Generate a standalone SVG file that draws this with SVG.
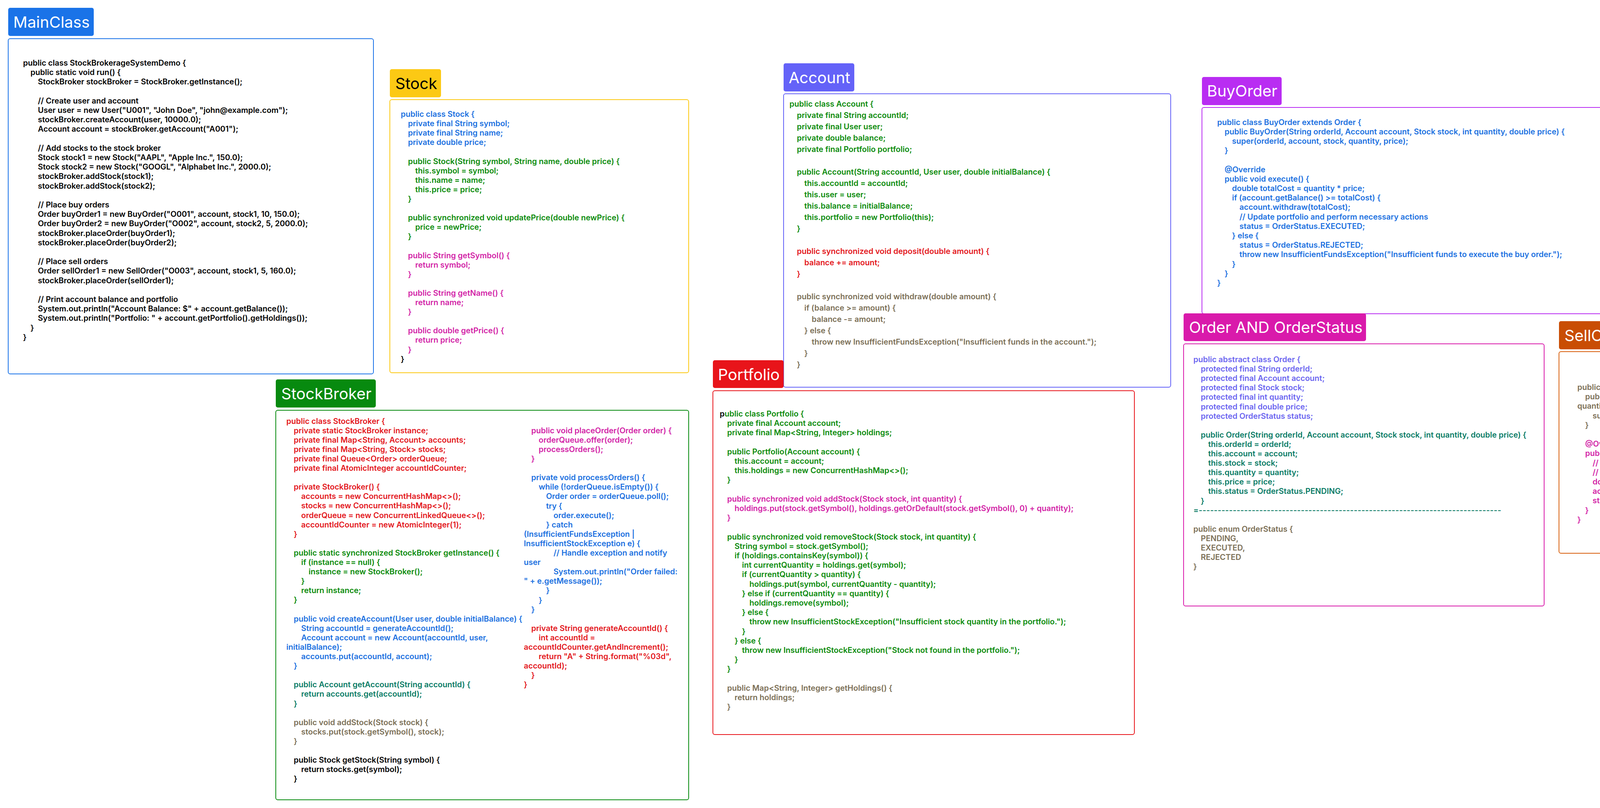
<svg xmlns="http://www.w3.org/2000/svg" width="4843" height="2068" viewBox="0 0 4843 2068">
<style>
text{font-family:Inter,"Noto Sans","Liberation Sans",sans-serif;}
.code{font-size:20px;font-weight:600;}
.lbl{font-size:40px;font-weight:400;fill:#fff;}
.box{fill:#fff;stroke-width:2;}
.b{fill:#1a6fe0}.g{fill:#0a8a0a}.m{fill:#d21fa6}.r{fill:#e3161b}.t{fill:#077a64}.n{fill:#7a6e55}.k{fill:#000}.p{fill:#6a64f0}
</style>
<rect width="4843" height="2068" fill="#fff"/>
<g id="connectors"/>

<g id="MainClass">
<rect x="21" y="20" width="219" height="72" rx="5" fill="#1a73e8"/>
<text class="lbl" x="34" y="71">MainClass</text>
<rect class="box" x="21" y="99" width="935" height="858" rx="5" stroke="#1a73e8"/>
<text class="code k">
<tspan x="59" y="168">public class StockBrokerageSystemDemo {</tspan>
<tspan x="78" dy="24.2">public static void run() {</tspan>
<tspan x="97" dy="24.2">StockBroker stockBroker = StockBroker.getInstance();</tspan>
<tspan x="97" dy="48.4">// Create user and account</tspan>
<tspan x="97" dy="24.2">User user = new User("U001", "John Doe", "john@example.com");</tspan>
<tspan x="97" dy="24.2">stockBroker.createAccount(user, 10000.0);</tspan>
<tspan x="97" dy="24.2">Account account = stockBroker.getAccount("A001");</tspan>
<tspan x="97" dy="48.4">// Add stocks to the stock broker</tspan>
<tspan x="97" dy="24.2">Stock stock1 = new Stock("AAPL", "Apple Inc.", 150.0);</tspan>
<tspan x="97" dy="24.2">Stock stock2 = new Stock("GOOGL", "Alphabet Inc.", 2000.0);</tspan>
<tspan x="97" dy="24.2">stockBroker.addStock(stock1);</tspan>
<tspan x="97" dy="24.2">stockBroker.addStock(stock2);</tspan>
<tspan x="97" dy="48.4">// Place buy orders</tspan>
<tspan x="97" dy="24.2">Order buyOrder1 = new BuyOrder("O001", account, stock1, 10, 150.0);</tspan>
<tspan x="97" dy="24.2">Order buyOrder2 = new BuyOrder("O002", account, stock2, 5, 2000.0);</tspan>
<tspan x="97" dy="24.2">stockBroker.placeOrder(buyOrder1);</tspan>
<tspan x="97" dy="24.2">stockBroker.placeOrder(buyOrder2);</tspan>
<tspan x="97" dy="48.4">// Place sell orders</tspan>
<tspan x="97" dy="24.2">Order sellOrder1 = new SellOrder("O003", account, stock1, 5, 160.0);</tspan>
<tspan x="97" dy="24.2">stockBroker.placeOrder(sellOrder1);</tspan>
<tspan x="97" dy="48.4">// Print account balance and portfolio</tspan>
<tspan x="97" dy="24.2">System.out.println("Account Balance: $" + account.getBalance());</tspan>
<tspan x="97" dy="24.2">System.out.println("Portfolio: " + account.getPortfolio().getHoldings());</tspan>
<tspan x="78" dy="24.2">}</tspan>
<tspan x="59" dy="24.2">}</tspan>
</text>
</g>

<g id="Stock">
<rect x="998" y="177" width="131" height="72" rx="5" fill="#fcc914"/>
<text class="lbl" x="1012" y="228" style="fill:#000">Stock</text>
<rect class="box" x="998" y="255" width="765" height="699" rx="5" stroke="#fcc914"/>
<text class="code">
<tspan class="b" x="1026" y="299">public class Stock {</tspan>
<tspan class="b" x="1044.5" dy="24.1">private final String symbol;</tspan>
<tspan class="b" x="1044.5" dy="24.1">private final String name;</tspan>
<tspan class="b" x="1044.5" dy="24.1">private double price;</tspan>
<tspan class="g" x="1044.5" dy="48.2">public Stock(String symbol, String name, double price) {</tspan>
<tspan class="g" x="1063" dy="24.1">this.symbol = symbol;</tspan>
<tspan class="g" x="1063" dy="24.1">this.name = name;</tspan>
<tspan class="g" x="1063" dy="24.1">this.price = price;</tspan>
<tspan class="g" x="1044.5" dy="24.1">}</tspan>
<tspan class="g" x="1044.5" dy="48.2">public synchronized void updatePrice(double newPrice) {</tspan>
<tspan class="g" x="1063" dy="24.1">price = newPrice;</tspan>
<tspan class="g" x="1044.5" dy="24.1">}</tspan>
<tspan class="m" x="1044.5" dy="48.2">public String getSymbol() {</tspan>
<tspan class="m" x="1063" dy="24.1">return symbol;</tspan>
<tspan class="m" x="1044.5" dy="24.1">}</tspan>
<tspan class="m" x="1044.5" dy="48.2">public String getName() {</tspan>
<tspan class="m" x="1063" dy="24.1">return name;</tspan>
<tspan class="m" x="1044.5" dy="24.1">}</tspan>
<tspan class="m" x="1044.5" dy="48.2">public double getPrice() {</tspan>
<tspan class="m" x="1063" dy="24.1">return price;</tspan>
<tspan class="m" x="1044.5" dy="24.1">}</tspan>
<tspan class="k" x="1026" dy="24.1">}</tspan>
</text>
</g>

<g id="StockBroker">
<rect x="706" y="971" width="256" height="72" rx="5" fill="#078a0f"/>
<text class="lbl" x="720" y="1022">StockBroker</text>
<rect class="box" x="706" y="1050" width="1057" height="997" rx="5" stroke="#078a0f"/>
<text class="code">
<tspan class="r" x="733" y="1084.5">public class StockBroker {</tspan>
<tspan class="r" x="752" dy="24.1">private static StockBroker instance;</tspan>
<tspan class="r" x="752" dy="24.1">private final Map&lt;String, Account&gt; accounts;</tspan>
<tspan class="r" x="752" dy="24.1">private final Map&lt;String, Stock&gt; stocks;</tspan>
<tspan class="r" x="752" dy="24.1">private final Queue&lt;Order&gt; orderQueue;</tspan>
<tspan class="r" x="752" dy="24.1">private final AtomicInteger accountIdCounter;</tspan>
<tspan class="r" x="752" dy="48.2">private StockBroker() {</tspan>
<tspan class="r" x="771" dy="24.1">accounts = new ConcurrentHashMap&lt;&gt;();</tspan>
<tspan class="r" x="771" dy="24.1">stocks = new ConcurrentHashMap&lt;&gt;();</tspan>
<tspan class="r" x="771" dy="24.1">orderQueue = new ConcurrentLinkedQueue&lt;&gt;();</tspan>
<tspan class="r" x="771" dy="24.1">accountIdCounter = new AtomicInteger(1);</tspan>
<tspan class="r" x="752" dy="24.1">}</tspan>
<tspan class="g" x="752" dy="48.2">public static synchronized StockBroker getInstance() {</tspan>
<tspan class="g" x="771" dy="24.1">if (instance == null) {</tspan>
<tspan class="g" x="790" dy="24.1">instance = new StockBroker();</tspan>
<tspan class="g" x="771" dy="24.1">}</tspan>
<tspan class="g" x="771" dy="24.1">return instance;</tspan>
<tspan class="g" x="752" dy="24.1">}</tspan>
<tspan class="b" x="752" dy="48.2">public void createAccount(User user, double initialBalance) {</tspan>
<tspan class="b" x="771" dy="24.1">String accountId = generateAccountId();</tspan>
<tspan class="b" x="771" dy="24.1">Account account = new Account(accountId, user,</tspan>
<tspan class="b" x="733" dy="24.1">initialBalance);</tspan>
<tspan class="b" x="771" dy="24.1">accounts.put(accountId, account);</tspan>
<tspan class="b" x="752" dy="24.1">}</tspan>
<tspan class="t" x="752" dy="48.2">public Account getAccount(String accountId) {</tspan>
<tspan class="t" x="771" dy="24.1">return accounts.get(accountId);</tspan>
<tspan class="t" x="752" dy="24.1">}</tspan>
<tspan class="n" x="752" dy="48.2">public void addStock(Stock stock) {</tspan>
<tspan class="n" x="771" dy="24.1">stocks.put(stock.getSymbol(), stock);</tspan>
<tspan class="n" x="752" dy="24.1">}</tspan>
<tspan class="k" x="752" dy="48.2">public Stock getStock(String symbol) {</tspan>
<tspan class="k" x="771" dy="24.1">return stocks.get(symbol);</tspan>
<tspan class="k" x="752" dy="24.1">}</tspan>
</text>
<text class="code">
<tspan class="m" x="1360" y="1108.7">public void placeOrder(Order order) {</tspan>
<tspan class="m" x="1379" dy="24.1">orderQueue.offer(order);</tspan>
<tspan class="m" x="1379" dy="24.1">processOrders();</tspan>
<tspan class="m" x="1360" dy="24.1">}</tspan>
<tspan class="b" x="1360" dy="48.2">private void processOrders() {</tspan>
<tspan class="b" x="1379" dy="24.1">while (!orderQueue.isEmpty()) {</tspan>
<tspan class="b" x="1398" dy="24.1">Order order = orderQueue.poll();</tspan>
<tspan class="b" x="1398" dy="24.1">try {</tspan>
<tspan class="b" x="1417" dy="24.1">order.execute();</tspan>
<tspan class="b" x="1398" dy="24.1">} catch</tspan>
<tspan class="b" x="1341" dy="24.1">(InsufficientFundsException |</tspan>
<tspan class="b" x="1341" dy="24.1">InsufficientStockException e) {</tspan>
<tspan class="b" x="1417" dy="24.1">// Handle exception and notify</tspan>
<tspan class="b" x="1341" dy="24.1">user</tspan>
<tspan class="b" x="1417" dy="24.1">System.out.println("Order failed:</tspan>
<tspan class="b" x="1341" dy="24.1">" + e.getMessage());</tspan>
<tspan class="b" x="1398" dy="24.1">}</tspan>
<tspan class="b" x="1379" dy="24.1">}</tspan>
<tspan class="b" x="1360" dy="24.1">}</tspan>
<tspan class="r" x="1360" dy="48.2">private String generateAccountId() {</tspan>
<tspan class="r" x="1379" dy="24.1">int accountId =</tspan>
<tspan class="r" x="1341" dy="24.1">accountIdCounter.getAndIncrement();</tspan>
<tspan class="r" x="1379" dy="24.1">return "A" + String.format("%03d",</tspan>
<tspan class="r" x="1341" dy="24.1">accountId);</tspan>
<tspan class="r" x="1360" dy="24.1">}</tspan>
<tspan class="r" x="1341" dy="24.1">}</tspan>
</text>
</g>

<g id="Account">
<rect x="2006" y="162" width="181" height="72" rx="5" fill="#6462f8"/>
<text class="lbl" x="2019" y="213">Account</text>
<rect class="box" x="2006" y="240" width="991" height="751" rx="5" stroke="#6462f8"/>
<text class="code">
<tspan class="g" x="2021" y="272.5">public class Account {</tspan>
<tspan class="g" x="2040" dy="29">private final String accountId;</tspan>
<tspan class="g" x="2040" dy="29">private final User user;</tspan>
<tspan class="g" x="2040" dy="29">private double balance;</tspan>
<tspan class="g" x="2040" dy="29">private final Portfolio portfolio;</tspan>
<tspan class="g" x="2040" dy="58">public Account(String accountId, User user, double initialBalance) {</tspan>
<tspan class="g" x="2059" dy="29">this.accountId = accountId;</tspan>
<tspan class="g" x="2059" dy="29">this.user = user;</tspan>
<tspan class="g" x="2059" dy="29">this.balance = initialBalance;</tspan>
<tspan class="g" x="2059" dy="29">this.portfolio = new Portfolio(this);</tspan>
<tspan class="g" x="2040" dy="29">}</tspan>
<tspan class="r" x="2040" dy="58">public synchronized void deposit(double amount) {</tspan>
<tspan class="r" x="2059" dy="29">balance += amount;</tspan>
<tspan class="r" x="2040" dy="29">}</tspan>
<tspan class="n" x="2040" dy="58">public synchronized void withdraw(double amount) {</tspan>
<tspan class="n" x="2059" dy="29">if (balance &gt;= amount) {</tspan>
<tspan class="n" x="2078" dy="29">balance -= amount;</tspan>
<tspan class="n" x="2059" dy="29">} else {</tspan>
<tspan class="n" x="2078" dy="29">throw new InsufficientFundsException("Insufficient funds in the account.");</tspan>
<tspan class="n" x="2059" dy="29">}</tspan>
<tspan class="n" x="2040" dy="29">}</tspan>
</text>
</g>

<g id="Portfolio">
<rect x="1825" y="922" width="181" height="71" rx="5" fill="#e8141a"/>
<text class="lbl" x="1838" y="972.5">Portfolio</text>
<rect class="box" x="1825" y="1000" width="1079" height="880" rx="5" stroke="#e8141a"/>
<text class="code">
<tspan class="k" x="1842.5" y="1066">p</tspan><tspan class="g">ublic class Portfolio {</tspan>
<tspan class="g" x="1861.5" dy="24.2">private final Account account;</tspan>
<tspan class="g" x="1861.5" dy="24.2">private final Map&lt;String, Integer&gt; holdings;</tspan>
<tspan class="g" x="1861.5" dy="48.4">public Portfolio(Account account) {</tspan>
<tspan class="g" x="1880.5" dy="24.2">this.account = account;</tspan>
<tspan class="g" x="1880.5" dy="24.2">this.holdings = new ConcurrentHashMap&lt;&gt;();</tspan>
<tspan class="g" x="1861.5" dy="24.2">}</tspan>
<tspan class="m" x="1861.5" dy="48.4">public synchronized void addStock(Stock stock, int quantity) {</tspan>
<tspan class="m" x="1880.5" dy="24.2">holdings.put(stock.getSymbol(), holdings.getOrDefault(stock.getSymbol(), 0) + quantity);</tspan>
<tspan class="m" x="1861.5" dy="24.2">}</tspan>
<tspan class="g" x="1861.5" dy="48.4">public synchronized void removeStock(Stock stock, int quantity) {</tspan>
<tspan class="g" x="1880.5" dy="24.2">String symbol = stock.getSymbol();</tspan>
<tspan class="g" x="1880.5" dy="24.2">if (holdings.containsKey(symbol)) {</tspan>
<tspan class="g" x="1899.5" dy="24.2">int currentQuantity = holdings.get(symbol);</tspan>
<tspan class="g" x="1899.5" dy="24.2">if (currentQuantity &gt; quantity) {</tspan>
<tspan class="g" x="1918.5" dy="24.2">holdings.put(symbol, currentQuantity - quantity);</tspan>
<tspan class="g" x="1899.5" dy="24.2">} else if (currentQuantity == quantity) {</tspan>
<tspan class="g" x="1918.5" dy="24.2">holdings.remove(symbol);</tspan>
<tspan class="g" x="1899.5" dy="24.2">} else {</tspan>
<tspan class="g" x="1918.5" dy="24.2">throw new InsufficientStockException("Insufficient stock quantity in the portfolio.");</tspan>
<tspan class="g" x="1899.5" dy="24.2">}</tspan>
<tspan class="g" x="1880.5" dy="24.2">} else {</tspan>
<tspan class="g" x="1899.5" dy="24.2">throw new InsufficientStockException("Stock not found in the portfolio.");</tspan>
<tspan class="g" x="1880.5" dy="24.2">}</tspan>
<tspan class="g" x="1861.5" dy="24.2">}</tspan>
<tspan class="n" x="1861.5" dy="48.4">public Map&lt;String, Integer&gt; getHoldings() {</tspan>
<tspan class="n" x="1880.5" dy="24.2">return holdings;</tspan>
<tspan class="n" x="1861.5" dy="24.2">}</tspan>
</text>
</g>

<g id="BuyOrder">
<rect x="3077" y="197" width="204" height="72" rx="5" fill="#b92df2"/>
<text class="lbl" x="3090" y="247">BuyOrder</text>
<rect class="box" x="3077" y="275" width="1052" height="528" rx="5" stroke="#b92df2"/>
<text class="code b">
<tspan x="3116" y="319.6">public class BuyOrder extends Order {</tspan>
<tspan x="3135" dy="24.2">public BuyOrder(String orderId, Account account, Stock stock, int quantity, double price) {</tspan>
<tspan x="3154" dy="24.2">super(orderId, account, stock, quantity, price);</tspan>
<tspan x="3135" dy="24.2">}</tspan>
<tspan x="3135" dy="48.4">@Override</tspan>
<tspan x="3135" dy="24.2">public void execute() {</tspan>
<tspan x="3154" dy="24.2">double totalCost = quantity * price;</tspan>
<tspan x="3154" dy="24.2">if (account.getBalance() &gt;= totalCost) {</tspan>
<tspan x="3173" dy="24.2">account.withdraw(totalCost);</tspan>
<tspan x="3173" dy="24.2">// Update portfolio and perform necessary actions</tspan>
<tspan x="3173" dy="24.2">status = OrderStatus.EXECUTED;</tspan>
<tspan x="3154" dy="24.2">} else {</tspan>
<tspan x="3173" dy="24.2">status = OrderStatus.REJECTED;</tspan>
<tspan x="3173" dy="24.2">throw new InsufficientFundsException("Insufficient funds to execute the buy order.");</tspan>
<tspan x="3154" dy="24.2">}</tspan>
<tspan x="3135" dy="24.2">}</tspan>
<tspan x="3116" dy="24.2">}</tspan>
</text>
</g>

<g id="User">
<rect x="4160" y="376" width="113" height="72" rx="5" fill="#018170"/>
<text class="lbl" x="4174" y="426">User</text>
<rect class="box" x="4160" y="454" width="669" height="313" rx="5" stroke="#018170"/>
<text class="code r">
<tspan x="4174" y="498">public class User {</tspan>
<tspan x="4193" dy="24.2">private final String userId;</tspan>
<tspan x="4193" dy="24.2">private final String name;</tspan>
<tspan x="4193" dy="24.2">private final String email;</tspan>
<tspan x="4193" dy="48.4">public User(String userId, String name, String email) {</tspan>
<tspan x="4212" dy="24.2">this.userId = userId;</tspan>
<tspan x="4212" dy="24.2">this.name = name;</tspan>
<tspan x="4212" dy="24.2">this.email = email;</tspan>
<tspan x="4193" dy="24.2">}</tspan>
<tspan x="4174" dy="24.2">}</tspan>
</text>
</g>

<g id="OrderAndOrderStatus">
<rect x="3030" y="802" width="467" height="71" rx="5" fill="#d91aab"/>
<text class="lbl" x="3044" y="852">Order AND OrderStatus</text>
<rect class="box" x="3030" y="880" width="923" height="671" rx="5" stroke="#d91aab"/>
<text class="code">
<tspan class="p" x="3055" y="927">public abstract class Order {</tspan>
<tspan class="p" x="3074" dy="24.1">protected final String orderId;</tspan>
<tspan class="p" x="3074" dy="24.1">protected final Account account;</tspan>
<tspan class="p" x="3074" dy="24.1">protected final Stock stock;</tspan>
<tspan class="p" x="3074" dy="24.1">protected final int quantity;</tspan>
<tspan class="p" x="3074" dy="24.1">protected final double price;</tspan>
<tspan class="p" x="3074" dy="24.1">protected OrderStatus status;</tspan>
<tspan class="t" x="3074" dy="48.2">public Order(String orderId, Account account, Stock stock, int quantity, double price) {</tspan>
<tspan class="t" x="3093" dy="24.1">this.orderId = orderId;</tspan>
<tspan class="t" x="3093" dy="24.1">this.account = account;</tspan>
<tspan class="t" x="3093" dy="24.1">this.stock = stock;</tspan>
<tspan class="t" x="3093" dy="24.1">this.quantity = quantity;</tspan>
<tspan class="t" x="3093" dy="24.1">this.price = price;</tspan>
<tspan class="t" x="3093" dy="24.1">this.status = OrderStatus.PENDING;</tspan>
<tspan class="t" x="3074" dy="24.1">}</tspan>
</text>
<text class="code t" x="3055" y="1312.6" textLength="788" lengthAdjust="spacing">=--------------------------------------------------------------------------------</text>
<text class="code n">
<tspan x="3055" y="1360.8">public enum OrderStatus {</tspan>
<tspan x="3074" dy="24.1">PENDING,</tspan>
<tspan x="3074" dy="24.1">EXECUTED,</tspan>
<tspan x="3074" dy="24.1">REJECTED</tspan>
<tspan x="3055" dy="24.1">}</tspan>
</text>
</g>

<g id="SellOrder">
<rect x="3991" y="822" width="201" height="72" rx="5" fill="#c94d04"/>
<text class="lbl" x="4005" y="873">SellOrder</text>
<rect class="box" x="3991" y="900" width="764" height="516" rx="5" stroke="#d8600f"/>
<text class="code">
<tspan class="n" x="4038" y="998">public class SellOrder extends Order {</tspan>
<tspan class="n" x="4058" dy="24.2">public SellOrder(String orderId, Account account, Stock stock, int</tspan>
<tspan class="n" x="4038" dy="24.2">quantity, double price) {</tspan>
<tspan class="n" x="4077" dy="24.2">super(orderId, account, stock, quantity, price);</tspan>
<tspan class="n" x="4058" dy="24.2">}</tspan>
<tspan class="m" x="4058" dy="48.4">@Override</tspan>
<tspan class="m" x="4058" dy="24.2">public void execute() {</tspan>
<tspan class="m" x="4077" dy="24.2">// Check if the user has sufficient quantity of the stock to sell</tspan>
<tspan class="m" x="4077" dy="24.2">// Update portfolio and perform necessary actions</tspan>
<tspan class="m" x="4077" dy="24.2">double totalProceeds = quantity * price;</tspan>
<tspan class="m" x="4077" dy="24.2">account.deposit(totalProceeds);</tspan>
<tspan class="m" x="4077" dy="24.2">status = OrderStatus.EXECUTED;</tspan>
<tspan class="m" x="4058" dy="24.2">}</tspan>
<tspan class="m" x="4038" dy="24.2">}</tspan>
</text>
</g>
</svg>
